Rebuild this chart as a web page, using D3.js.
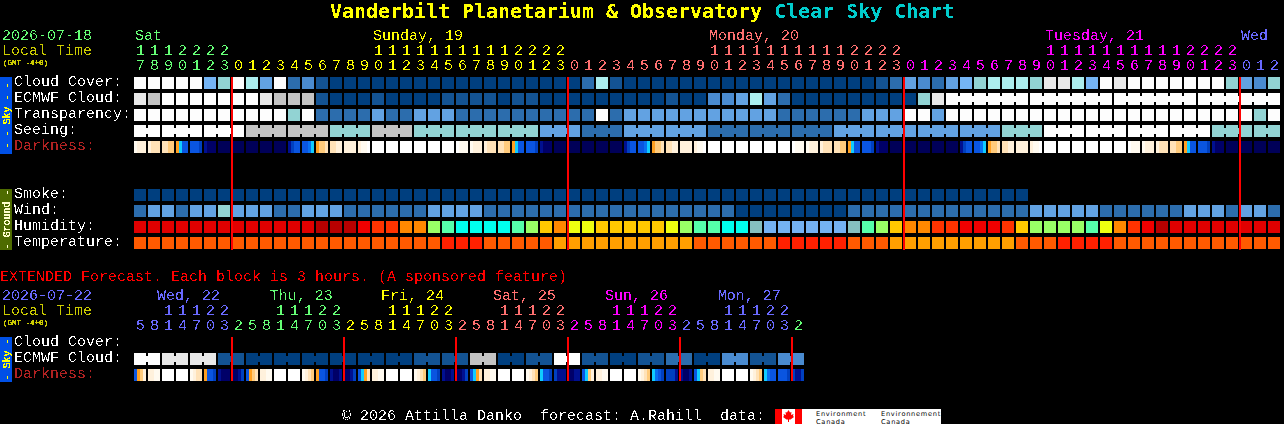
<!DOCTYPE html>
<html>
<head>
<meta charset="utf-8">
<title>Vanderbilt Planetarium & Observatory Clear Sky Chart</title>
<script src="https://cdn.jsdelivr.net/npm/d3@7"></script>
<style>
  html, body { margin: 0; padding: 0; background: #000; overflow: hidden; }
  svg { display: block; }
  text { font-family: "Liberation Mono", monospace; font-size: 15px; }
</style>
</head>
<body>
<div id="chart"></div>
<script>
// hourly block, 82 columns starting Sat 17:00
const hours = [17,18,19,20,21,22,23,
  0,1,2,3,4,5,6,7,8,9,10,11,12,13,14,15,16,17,18,19,20,21,22,23,
  0,1,2,3,4,5,6,7,8,9,10,11,12,13,14,15,16,17,18,19,20,21,22,23,
  0,1,2,3,4,5,6,7,8,9,10,11,12,13,14,15,16,17,18,19,20,21,22,23,
  0,1,2];
const midnights = [7,31,55,79];
const days = [
  {label:"Sat", col:0, color:"#66ff77"},
  {label:"Sunday, 19", col:17, color:"#ffff00"},
  {label:"Monday, 20", col:41, color:"#ff7070"},
  {label:"Tuesday, 21", col:65, color:"#ff00ff"},
  {label:"Wed", col:79, color:"#6a6aff"}
];

// cloud in percent
const cloudCover = [100,100,100,100,100,50,60,100,70,40,100,20,30,10,
  0,0,0,0,0,0,0,0,0,0,0,0,0,0,0,0,0,0,
  20,70,10,
  0,0,0,0,0,0,0,0,0,0,0,0,0,0,0,0,0,
  0,10,20,40,30,20,40,50,60,70,70,70,60,90,90,70,50,100,90,
  100,100,100,100,100,100,100,60,40,30,60];
const ecmwfCloud = [90,80,100,100,100,100,100,100,100,90,80,80,80,10,
  0,0,0,10,0,0,0,
  0,10,10,10,10,0,10,10,0,0,0,0,0,0,0,0,0,10,0,0,
  30,30,40,70,40,20,0,0,0,0,0,
  0,0,0,0,60,90,
  100,100,100,100,100,100,100,100,100,100,100,100,100,100,100,100,100,100,100,100,100,100,100,100];
const transparency = [100,100,100,100,100,100,100,100,100,100,100,60,100,20,20,20,20,40,20,20,40,
  40,40,20,20,20,20,20,20,20,20,20,20,100,20,
  40,40,40,40,40,40,40,40,40,40,40,20,20,20,20,20,20,
  40,40,40,100,100,40,
  100,100,100,100,100,100,100,100,100,100,100,100,100,100,100,100,100,100,100,100,100,100,60,100];
const seeing = [100,100,100,100,100,100,100,100,80,80,80,80,80,80,60,60,60,80,80,80,
  60,60,60,60,60,60,60,60,60,40,40,40,20,20,20,40,40,40,40,40,40,
  20,20,20,20,20,20,20,20,20,40,40,40,40,40,40,40,40,40,40,40,40,
  60,60,60,100,100,100,100,100,100,100,100,100,100,100,100,60,60,60,60,60];
// darkness: 0 daylight .. 10 full dark, four readings across each cell
const darkness = [
  [0.5,1,1,1],[1,2,2,2],[2,2,3,3],[4,5,6.5,6.5],[6.5,6.5,6.5,7],[8,9,9,9],[10,10,10,10],
  [10,10,10,10],[10,10,10,10],[10,10,10,10],[10,10,10,10],[8,7,6.5,6.5],[6.5,6.5,6,5],[4,3,3,2],
  [2,2,1,1],[1,1,1,1],[1,0.5,0.5,0],[0,0,0,0],[0,0,0,0],[0,0,0,0],[0,0,0,0],
  [0,0,0,0],[0,0,0,0],[0,0.5,0.5,0.5],[0.5,1,1,1],[1,2,2,2],[2,2,3,3],[4,5,6.5,6.5],
  [6.5,6.5,6.5,7],[8,9,9,9],[10,10,10,10],[10,10,10,10],[10,10,10,10],[10,10,10,10],[10,10,10,10],
  [8,7,6.5,6.5],[6.5,6.5,6,5],[4,3,3,2],[2,2,1,1],[1,1,1,1],[1,0.5,0.5,0],[0,0,0,0],
  [0,0,0,0],[0,0,0,0],[0,0,0,0],[0,0,0,0],[0,0,0,0],[0,0.5,0.5,0.5],[0.5,1,1,1],[1,2,2,2],
  [2,2,3,3],[4,5,6.5,6.5],[6.5,6.5,6.5,7],[8,9,9,9],[10,10,10,10],[10,10,10,10],[10,10,10,10],
  [10,10,10,10],[10,10,10,10],[8,7,6.5,6.5],[6.5,6.5,6,5],[4,3,3,2],[2,2,1,1],[1,1,1,1],
  [1,0.5,0.5,0],[0,0,0,0],[0,0,0,0],[0,0,0,0],[0,0,0,0],[0,0,0,0],[0,0,0,0],[0,0.5,0.5,0.5],
  [0.5,1,1,1],[1,2,2,2],[2,2,3,3],[4,5,6.5,6.5],[6.5,6.5,6.5,7],[8,9,9,9],[10,10,10,10],
  [10,10,10,10],[10,10,10,10],[10,10,10,10]
];
const smoke = [0,0,0,0,0,0,0,0,0,0,0,0,0,0,0,0,0,0,0,0,0,0,0,0,0,0,0,0,0,0,0,0,
  0,0,0,0,0,0,0,0,0,0,0,0,0,0,0,0,0,0,0,0,0,0,0,0,0,0,0,0,0,0,0,0];
const wind = [20,40,40,20,40,40,60,40,40,40,20,20,40,40,40,20,20,20,20,20,20,
  40,40,40,40,20,20,20,20,20,20,20,20,20,20,20,20,20,20,20,20,20,20,
  0,0,0,0,0,0,0,0,20,
  20,20,20,20,20,20,20,20,20,20,20,20,40,40,40,40,40,20,20,20,20,20,20,40,40,40,20,40,40,20];
const humidity = [92,92,92,92,92,92,92,92,92,92,92,92,92,97,97,97,87,82,82,77,77,
  62,57,52,52,52,52,57,62,72,77,67,67,72,72,72,72,72,67,62,57,57,52,52,47,
  42,42,42,42,42,42,47,
  57,62,72,77,77,82,82,87,87,87,82,72,62,62,62,62,57,67,77,82,87,97,92,92,92,92,92,92,92,92];
const temperature = [27,27,27,27,27,27,27,27,27,27,27,27,27,27,27,27,27,27,27,27,27,
  27,30,30,30,27,27,27,27,27,24,24,24,24,24,24,24,24,24,24,27,27,27,27,27,27,
  30,30,30,30,30,27,
  27,27,24,24,24,24,24,24,24,24,24,27,27,27,30,30,30,30,27,27,27,27,27,27,27,27,27,27,27,27];

// extended block, 48 columns of 3 hours starting Wed 05:00
const extHours = [5,8,11,14,17,20,23,
  2,5,8,11,14,17,20,23,2,5,8,11,14,17,20,23,2,5,8,11,14,17,20,23,
  2,5,8,11,14,17,20,23,2,5,8,11,14,17,20,23,2];
const extMidnights = [7,15,23,31,39,47];
const extDays = [
  {label:"Wed, 22", col:1.65, color:"#6a6aff", from:0},
  {label:"Thu, 23", col:9.7, color:"#66ff77", from:7},
  {label:"Fri, 24", col:17.65, color:"#ffff00", from:15},
  {label:"Sat, 25", col:25.65, color:"#ff7070", from:23},
  {label:"Sun, 26", col:33.65, color:"#ff00ff", from:31},
  {label:"Mon, 27", col:41.7, color:"#6a6aff", from:39}
];
const extEcmwf = [100,100,90,90,90,90,10,10,0,0,0,0,0,0,0,0,0,0,0,0,10,10,10,10,80,80,
  0,0,10,10,100,100,10,10,0,0,10,10,20,20,0,0,30,30,10,10,30,30];
const extDarkness = [
  [6.5,4,3,1],[1,1,0.5,0.5],[0,0,0,0],[0,0,0,0],[0.5,1,2,2],[4,6.5,6.5,7],[8,9,9,9],[9,9,8,7],
  [6.5,4,3,2],[1,1,0.5,0.5],[0,0,0,0],[0,0,0,0],[0.5,1,2,3],[4,6.5,6.5,7],[8,9,9,8],[9,9,8,7],
  [6.5,5,4,2],[1,1,0.5,0.5],[0,0,0,0],[0,0,0,0],[0.5,1,2,3],[5,6.5,6.5,7],[8,9,9,8],[9,9,8,7],
  [6.5,5,4,2],[1,1,0.5,0.5],[0,0,0,0],[0,0,0,0],[0.5,1,2,3],[5,6.5,6.5,7],[7,8,8,8],[9,9,8,8],
  [6.5,5,3,1],[1,1,0.5,0.5],[0,0,0,0],[0,0,0,0],[0.5,1,2,3],[5,6,6.5,7],[7,7,7,8],[8,9,9,8],
  [6.5,5,3,2],[1,1,0.5,0.5],[0,0,0,0],[0,0,0,0],[0.5,1,2,3],[5,6,6.5,6.5],[6.5,6.5,6.5,7],[7,8,8,7]
];

const rowNames = ["Cloud Cover:","ECMWF Cloud:","Transparency:","Seeing:","Darkness:"];
const groundNames = ["Smoke:","Wind:","Humidity:","Temperature:"];
const extNames = ["Cloud Cover:","ECMWF Cloud:","Darkness:"];

const width = 1284, height = 424;
const cellSize = 12;

const svg = d3.select("#chart").append("svg")
  .attr("width", width)
  .attr("height", height)
  .style("background", "#000");

// hard edged text, the original is a bitmap font
const defs = svg.append("defs");
function hardFilter(id, table) {
  defs.append("filter").attr("id", id)
    .attr("x", "-5%").attr("y", "-20%").attr("width", "110%").attr("height", "140%")
    .append("feComponentTransfer")
    .append("feFuncA").attr("type", "discrete").attr("tableValues", table);
}
hardFilter("hard", "0 0 1 1");
hardFilter("hardBright", "0 0 0 1 1");
hardFilter("hardSmall", "0 1 1 1");

const x = d3.scaleLinear().domain([0, 82]).range([134, 134 + 82 * 14]);

const skyY = d3.scalePoint().domain(rowNames).range([77, 141]);
const groundY = d3.scalePoint().domain(groundNames).range([189, 237]);
const extY = d3.scalePoint().domain(extNames).range([337, 369]);

const cloudColor = d3.scaleOrdinal()
  .domain([0,10,20,30,40,50,60,70,80,90,100])
  .range(["#003f7f","#135393","#2c6dad","#4a8bd0","#62a2e2","#75b5f5","#92d3d3","#aceeee","#c3c3c3","#e8e8e8","#fdfdfd"]);
const humidityColor = d3.scaleOrdinal()
  .domain([42,47,52,57,62,67,72,77,82,87,92,97])
  .range(["#74b2f2","#85bfbf","#00ffee","#55ffaa","#99ff66","#eeff10","#ffc800","#ff8800","#ff3300","#f00000","#e00000","#b80000"]);
const tempColor = d3.scaleOrdinal()
  .domain([24,27,30])
  .range(["#ff9f00","#ff5a00","#ff2000"]);
const darkColor = d3.scaleLinear()
  .domain([0,0.5,1,2,3,4,5,6,6.5,7,8,9,10])
  .range(["#ffffff","#fffaf0","#fff1dc","#ffe2b8","#ffcb7c","#ffa020","#10ccff","#0870f0","#0a55e0","#0040c0","#001090","#000068","#000058"]);

const marks = svg.append("g").attr("shape-rendering", "crispEdges");

function drawRow(values, y, color, joined) {
  const row = marks.append("g");
  row.selectAll("rect.cell")
    .data(values)
    .enter().append("rect")
    .attr("class", "cell")
    .attr("x", (d, i) => x(i))
    .attr("y", y)
    .attr("width", cellSize)
    .attr("height", cellSize)
    .attr("fill", d => color(d));
  if (joined) {
    // forecast blocks longer than a column are tied together with a small bar
    row.selectAll("rect.join")
      .data(values.map((d, i) => ({d, i})).filter(e => e.i < values.length - 1 && joined(e.i)))
      .enter().append("rect")
      .attr("class", "join")
      .attr("x", e => x(e.i) + cellSize)
      .attr("y", y + 3)
      .attr("width", 2)
      .attr("height", cellSize - 6)
      .attr("fill", e => color(e.d));
  }
}

function drawDarkness(values, y) {
  const sub = d3.scaleBand().domain([0,1,2,3]).range([0, cellSize]);
  const cols = marks.append("g").selectAll("g")
    .data(values)
    .enter().append("g")
    .attr("transform", (d, i) => `translate(${x(i)},${y})`);
  cols.selectAll("rect")
    .data(d => d)
    .enter().append("rect")
    .attr("x", (d, j) => sub(j))
    .attr("width", sub.bandwidth())
    .attr("height", cellSize)
    .attr("fill", d => darkColor(d));
}

drawRow(cloudCover, skyY("Cloud Cover:"), cloudColor);
drawRow(ecmwfCloud, skyY("ECMWF Cloud:"), cloudColor, i => i >= 58 && (i - 58) % 6 !== 5);
drawRow(transparency, skyY("Transparency:"), cloudColor);
drawRow(seeing, skyY("Seeing:"), cloudColor, i => i % 3 !== 1);
drawDarkness(darkness, skyY("Darkness:"));

drawRow(smoke, groundY("Smoke:"), cloudColor);
drawRow(wind, groundY("Wind:"), cloudColor);
drawRow(humidity, groundY("Humidity:"), humidityColor);
drawRow(temperature, groundY("Temperature:"), tempColor);

drawRow(extEcmwf, extY("ECMWF Cloud:"), cloudColor, i => i % 2 === 0);
drawDarkness(extDarkness, extY("Darkness:"));

// midnight markers
marks.append("g").selectAll("rect")
  .data(midnights)
  .enter().append("rect")
  .attr("x", d => x(d) - 1)
  .attr("y", 77)
  .attr("width", 2)
  .attr("height", 173)
  .attr("fill", "#ff0000");
marks.append("g").selectAll("rect")
  .data(extMidnights)
  .enter().append("rect")
  .attr("x", d => x(d) - 1)
  .attr("y", 337)
  .attr("width", 2)
  .attr("height", 44)
  .attr("fill", "#ff0000");

// side bands
marks.append("rect").attr("x", 0).attr("y", 77).attr("width", 12).attr("height", 77).attr("fill", "#0050e6");
marks.append("rect").attr("x", 0).attr("y", 189).attr("width", 12).attr("height", 61).attr("fill", "#4e6b00");
marks.append("rect").attr("x", 0).attr("y", 337).attr("width", 12).attr("height", 45).attr("fill", "#0050e6");

const labels = svg.append("g").attr("filter", "url(#hard)");
const brightLabels = svg.append("g").attr("filter", "url(#hardBright)");
const smallLabels = svg.append("g").attr("filter", "url(#hardSmall)");

// light colours come out heavier from the rasteriser
const brightColors = ["#ffffff", "#ffff00", "#66ff77"];

function addText(str, px, py, color, size) {
  const group = size ? smallLabels : (brightColors.includes(color) ? brightLabels : labels);
  const t = group.append("text")
    .attr("x", px)
    .attr("y", py)
    .attr("fill", color)
    .text(str);
  if (size) t.style("font-size", size + "px");
  return t;
}

function addBandText(str, cy, color) {
  smallLabels.append("text")
    .attr("transform", `translate(9.5,${cy}) rotate(-90)`)
    .attr("text-anchor", "middle")
    .attr("fill", color)
    .style("font-size", "10px")
    .text(str);
}

// title
const title = svg.append("text")
  .attr("x", 330)
  .attr("y", 18)
  .attr("filter", "url(#hard)")
  .style("font-family", '"DejaVu Sans Mono", monospace')
  .style("font-weight", "bold")
  .style("font-size", "19.94px")
  .attr("xml:space", "preserve");
title.append("tspan").attr("fill", "#ffff00").text("Vanderbilt Planetarium & Observatory ");
title.append("tspan").attr("fill", "#00cccc").text("Clear Sky Chart");

// hourly header
addText("2026-07-18", 2, 40, "#66ff77");
addText("Local Time", 2, 55, "#cccc00");
addText("(GMT -4+0)", 3, 65, "#cccc00", 7.5);
days.forEach(d => addText(d.label, x(d.col) + 1, 40, d.color));

function hourColor(i) {
  let c = days[0].color;
  midnights.forEach((m, k) => { if (i >= m) c = days[k + 1].color; });
  return c;
}
hours.forEach((h, i) => {
  if (h >= 10) addText(Math.floor(h / 10), x(i) + 2, 55, hourColor(i));
  addText(h % 10, x(i) + 2, 70, hourColor(i));
});

rowNames.forEach(n => addText(n, 14, skyY(n) + 9, n === "Darkness:" ? "#b02020" : "#ffffff"));
groundNames.forEach(n => addText(n, 14, groundY(n) + 9, "#ffffff"));

addBandText("- - Sky - -", 115.5, "#ffff00");
addBandText("- Ground -", 219.5, "#ffffcc");
addBandText("- Sky -", 359.5, "#ffff00");

// extended header
addText("EXTENDED Forecast. Each block is 3 hours. (A sponsored feature)", 0, 281, "#ff0000");
addText("2026-07-22", 2, 300, "#6a6aff");
addText("Local Time", 2, 315, "#cccc00");
addText("(GMT -4+0)", 3, 325, "#cccc00", 7.5);
extDays.forEach(d => addText(d.label, x(d.col), 300, d.color));

function extColor(i) {
  if (i === 47) return "#66ff77";
  let c = extDays[0].color;
  extDays.forEach(d => { if (i >= d.from) c = d.color; });
  return c;
}
extHours.forEach((h, i) => {
  if (h >= 10) addText(Math.floor(h / 10), x(i) + 2, 315, extColor(i));
  addText(h % 10, x(i) + 2, 330, extColor(i));
});

extNames.forEach(n => addText(n, 14, extY(n) + 9, n === "Darkness:" ? "#b02020" : "#ffffff"));

// footer
brightLabels.append("text")
  .attr("x", 342)
  .attr("y", 420)
  .attr("fill", "#ffffff")
  .attr("xml:space", "preserve")
  .text("© 2026 Attilla Danko  forecast: A.Rahill  data:");

const logo = svg.append("g");
logo.append("rect").attr("x", 775).attr("y", 409).attr("width", 166).attr("height", 15).attr("fill", "#ffffff");
logo.append("rect").attr("x", 775).attr("y", 409).attr("width", 7).attr("height", 15).attr("fill", "#ff0000");
logo.append("rect").attr("x", 795).attr("y", 409).attr("width", 7).attr("height", 15).attr("fill", "#ff0000");
logo.append("path")
  .attr("transform", "translate(788.5,416)")
  .attr("d", "M0,-6 L1.5,-3.5 L3,-4 L2.5,-1 L5,-2 L4.5,0 L5.5,1 L2,3.5 L0.5,3.5 L0.5,6 L-0.5,6 L-0.5,3.5 L-2,3.5 L-5.5,1 L-4.5,0 L-5,-2 L-2.5,-1 L-3,-4 L-1.5,-3.5 Z")
  .attr("fill", "#ff0000");
[["Environment", 816], ["Environnement", 881]].forEach(e => {
  [[e[0], 415.5], ["Canada", 423.5]].forEach(line => {
    logo.append("text").attr("x", e[1]).attr("y", line[1]).attr("fill", "#000")
      .style("font-family", '"DejaVu Sans", sans-serif')
      .style("font-size", "6.6px")
      .style("letter-spacing", "0.75px")
      .text(line[0]);
  });
});
</script>
</body>
</html>
